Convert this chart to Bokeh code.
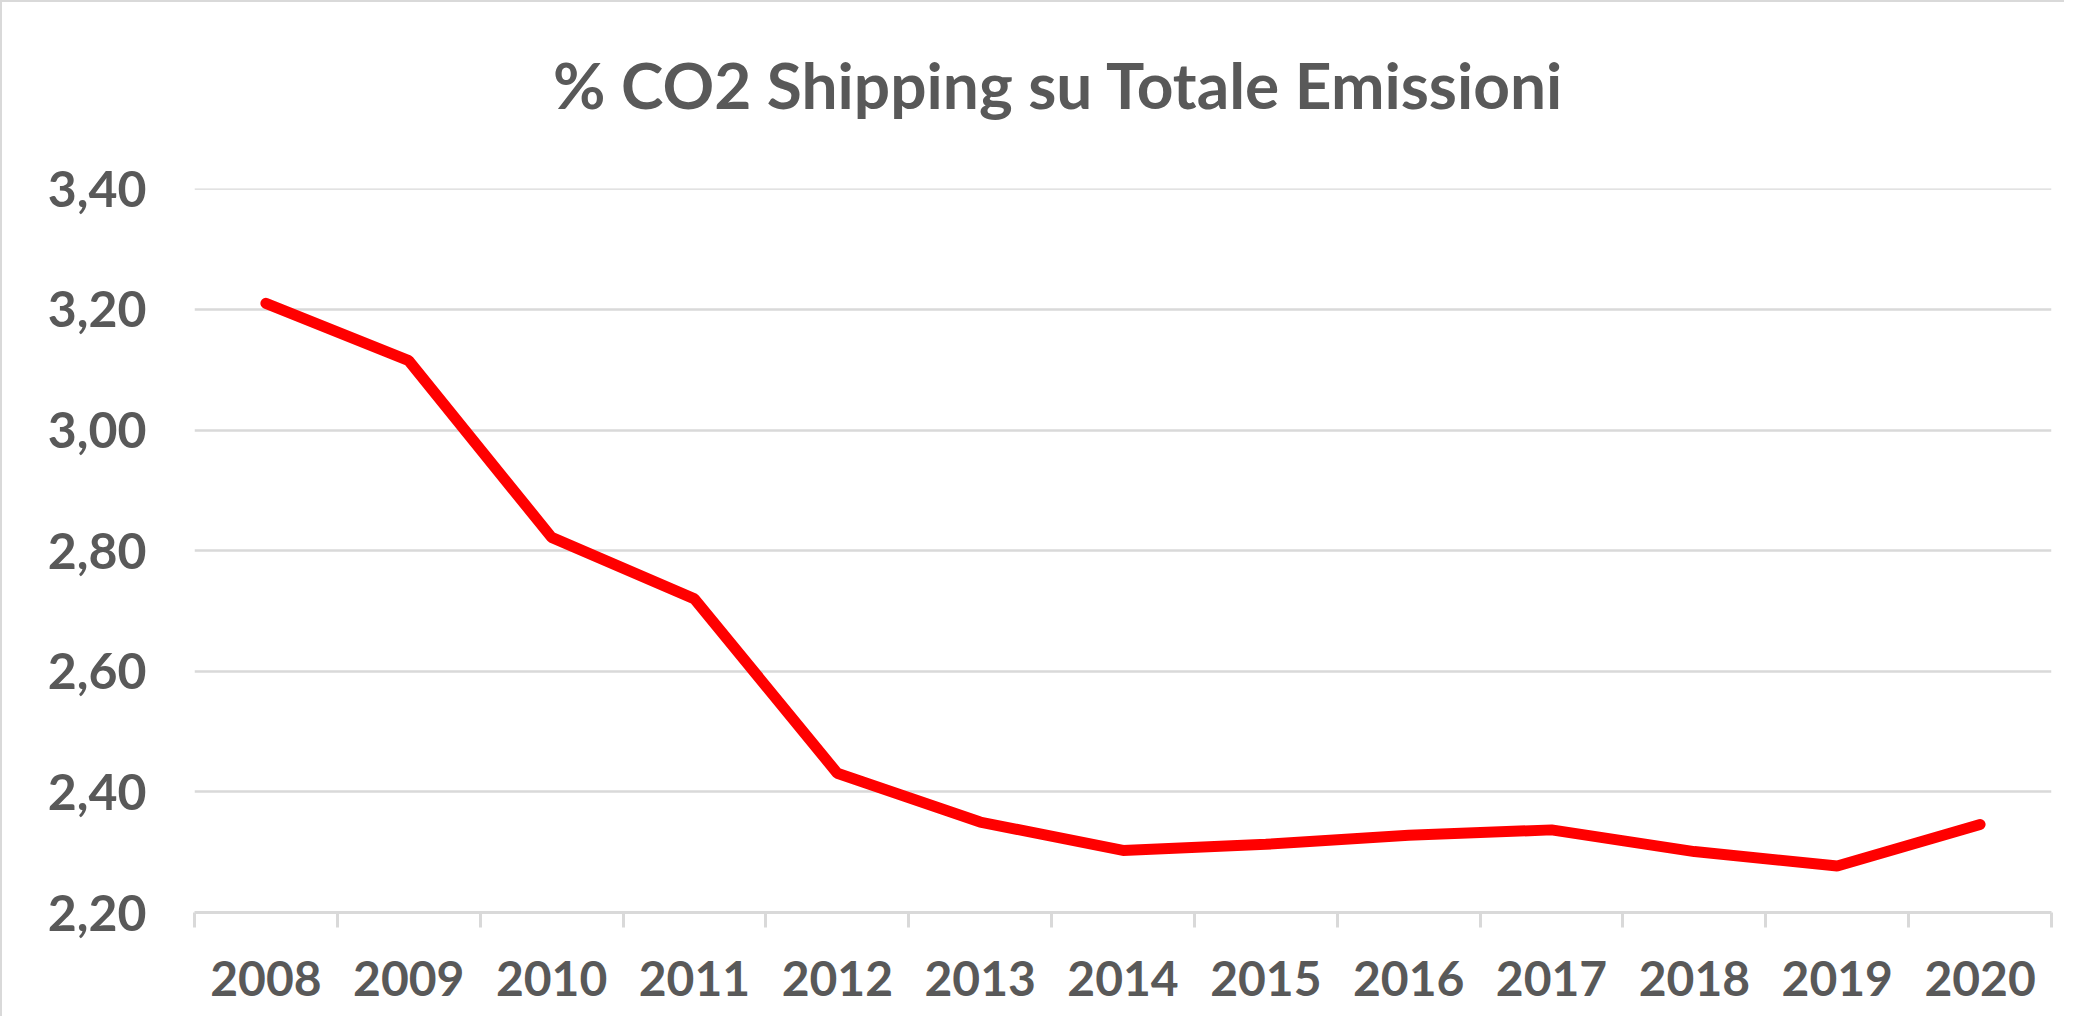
from bokeh.plotting import figure
from bokeh.models import (FixedTicker, CustomJSTickFormatter, LinearAxis, Range1d, Grid)
from bokeh.embed import file_html
from bokeh.resources import INLINE

years = ["2008", "2009", "2010", "2011", "2012", "2013", "2014",
         "2015", "2016", "2017", "2018", "2019", "2020"]
share = [3.21, 3.115, 2.822, 2.72, 2.431, 2.350, 2.303,
         2.313, 2.328, 2.337, 2.301, 2.277, 2.346]
y_ticks = [2.2, 2.4, 2.6, 2.8, 3.0, 3.2, 3.4]
title_text = "% CO2 Shipping su Totale Emissioni"

n = len(years)
x_pos = [i + 0.5 for i in range(n)]
boundaries = list(range(n + 1))
title_x = n / 2 - 0.45   # title is centred on the whole chart, a bit left of the plot centre

GREY = "#595959"
LINE_GREY = "#D9D9D9"
FONT = "Lato"

p = figure(width=2064, height=1016, output_backend="svg", toolbar_location=None,
           x_range=Range1d(0, n), y_range=Range1d(y_ticks[0], y_ticks[-1] + 0.0005),
           x_axis_type=None, y_axis_type=None,
           min_border_left=192, min_border_right=15,
           min_border_top=186, min_border_bottom=106)
p.outline_line_color = None
p.background_fill_color = "white"
p.border_fill_color = "white"
p.styles = {"border-left": "2px solid #D9D9D9", "border-top": "2px solid #D9D9D9"}

# title, drawn as the single label of an axis above the plot
title_axis = LinearAxis(ticker=FixedTicker(ticks=[title_x]),
                        formatter=CustomJSTickFormatter(args=dict(t=title_text), code="return t;"),
                        axis_line_color=None, major_tick_line_color=None, minor_tick_line_color=None,
                        major_tick_in=0, major_tick_out=0,
                        major_label_text_font=FONT, major_label_text_font_style="bold",
                        major_label_text_font_size="64px", major_label_text_color=GREY,
                        major_label_standoff=66)
p.add_layout(title_axis, "above")

# y axis
yticker = FixedTicker(ticks=y_ticks)
yaxis = LinearAxis(ticker=yticker,
                   formatter=CustomJSTickFormatter(code="return tick.toFixed(2).replace('.', ',');"),
                   axis_line_color=None, major_tick_line_color=None, minor_tick_line_color=None,
                   major_tick_in=0, major_tick_out=0,
                   major_label_text_font=FONT, major_label_text_font_style="bold",
                   major_label_text_font_size="50px", major_label_text_color=GREY,
                   major_label_standoff=48)
p.add_layout(yaxis, "left")
p.add_layout(Grid(dimension=1, ticker=yticker, grid_line_color=LINE_GREY, grid_line_width=2.5))

# x axis: tick marks between categories
xaxis1 = LinearAxis(ticker=FixedTicker(ticks=boundaries),
                    formatter=CustomJSTickFormatter(code="return '';"),
                    axis_line_color=LINE_GREY, axis_line_width=3,
                    major_tick_line_color=LINE_GREY, major_tick_line_width=3,
                    major_tick_in=0, major_tick_out=15, minor_tick_line_color=None,
                    major_label_text_font_size="1px", major_label_standoff=0)
p.add_layout(xaxis1, "below")

# x axis: category labels
xaxis2 = LinearAxis(ticker=FixedTicker(ticks=x_pos),
                    formatter=CustomJSTickFormatter(args=dict(years=years),
                                                    code="return years[Math.floor(tick)];"),
                    axis_line_color=None, major_tick_line_color=None, minor_tick_line_color=None,
                    major_tick_in=0, major_tick_out=0,
                    major_label_text_font=FONT, major_label_text_font_style="bold",
                    major_label_text_font_size="48px", major_label_text_color=GREY,
                    major_label_standoff=33)
p.add_layout(xaxis2, "below")

p.line(x_pos, share, line_color="#FF0000", line_width=11, line_cap="round")

open("out.html", "w").write(file_html(p, INLINE))
